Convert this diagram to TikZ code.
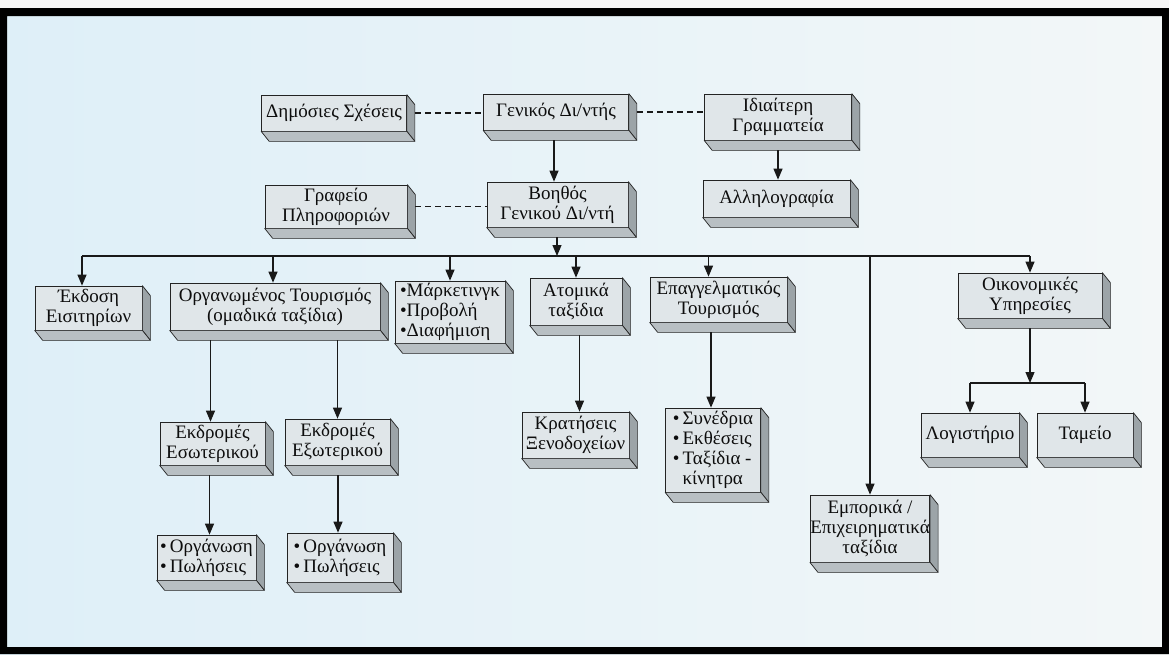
\documentclass[tikz,border=0pt]{standalone}
\usepackage{fontspec}
\setmainfont{Liberation Serif}
\usetikzlibrary{arrows.meta,calc}

\definecolor{bgleft}{RGB}{222,239,248}
\definecolor{bgright}{RGB}{243,247,248}
\definecolor{faceF}{RGB}{224,230,233}
\definecolor{faceS}{RGB}{156,164,168}
\definecolor{faceB}{RGB}{184,191,195}
\definecolor{edgec}{RGB}{35,35,35}

% side and bottom faces of a raised box, offset down-right
\newcommand\solidfaces[1]{%
  \filldraw[sidef] (#1.north east) -- ++(8,10) -- ($(#1.south east)+(8,10)$) -- (#1.south east) -- cycle;
  \filldraw[botf] (#1.south west) -- (#1.south east) -- ++(8,10) -- ($(#1.south west)+(8,10)$) -- cycle;}

\begin{document}
\begin{tikzpicture}[x=1pt,y=-1pt,
  box/.style={draw=edgec, fill=faceF, line width=0.7pt, inner sep=0pt, align=center,
    text=black!95, font=\fontsize{19}{20}\selectfont},
  sidef/.style={draw=edgec, fill=faceS, line width=0.7pt, line join=round},
  botf/.style={draw=edgec, fill=faceB, line width=0.7pt, line join=round},
  conn/.style={draw=black!90, line width=1.1pt},
  arr/.style={conn, -{Triangle[length=11pt,width=9pt]}},
  dashconn/.style={draw=black!90, line width=1.1pt, dash pattern=on 6pt off 4pt}]

\useasboundingbox (0,0) rectangle (1169,654);
\shade[left color=bgleft, right color=bgright] (0,0) rectangle (1169,654);
\fill[white!94!gray] (0,0) rectangle (1169,8);
\fill[black, even odd rule] (0,8) rectangle (1169,654) (7,16) rectangle (1162,647);

% top level
\node[box, minimum width=145pt, minimum height=36pt] (dim) at (334,113) {Δημόσιες Σχέσεις};
\node[box, minimum width=145pt, minimum height=36pt] (gen) at (556,112) {Γενικός Δι/ντής};
\node[box, minimum width=147pt, minimum height=46pt] (idi) at (778,117) {Ιδιαίτερη\\Γραμματεία};

% second level
\node[box, minimum width=142pt, minimum height=43pt] (graf) at (336,206.5) {Γραφείο\\Πληροφοριών};
\node[box, minimum width=141pt, minimum height=45pt] (voi) at (557.5,204.5) {Βοηθός\\Γενικού Δι/ντή};
\node[box, minimum width=147pt, minimum height=37pt] (all) at (776.5,198.5) {Αλληλογραφία};

% departments
\node[box, minimum width=107pt, minimum height=44pt] (ekd) at (88.5,308) {Έκδοση\\Εισιτηρίων};
\node[box, minimum width=210pt, minimum height=47pt] (org) at (275,306.5) {Οργανωμένος Τουρισμός\\(ομαδικά ταξίδια)};
\node[box, minimum width=110pt, minimum height=62pt, align=left] (mar) at (450,312) {•Μάρκετινγκ\\•Προβολή\\•Διαφήμιση};
\node[box, minimum width=92pt, minimum height=47pt] (ato) at (576,301.5) {Ατομικά\\ταξίδια};
\node[box, minimum width=137pt, minimum height=45pt] (epa) at (718.5,299.5) {Επαγγελματικός\\Τουρισμός};
\node[box, minimum width=144pt, minimum height=45pt] (oik) at (1030,295.5) {Οικονομικές\\Υπηρεσίες};

% sub-departments
\node[box, minimum width=105pt, minimum height=43pt] (esw) at (212.5,443.5) {Εκδρομές\\Εσωτερικού};
\node[box, minimum width=105pt, minimum height=46pt] (exw) at (337.5,442) {Εκδρομές\\Εξωτερικού};
\node[box, minimum width=107pt, minimum height=46pt] (kra) at (575.5,435) {Κρατήσεις\\Ξενοδοχείων};
\node[box, minimum width=95pt, minimum height=84pt, align=left] (syn) at (713,450) {•\,Συνέδρια\\•\,Εκθέσεις\\•\,Ταξίδια -\\\hphantom{•\,}κίνητρα};
\node[box, minimum width=98pt, minimum height=44pt] (log) at (970,435) {Λογιστήριο};
\node[box, minimum width=96pt, minimum height=44pt] (tam) at (1085,435) {Ταμείο};

% lowest level
\node[box, minimum width=99pt, minimum height=45pt, align=left] (orgA) at (206.5,557.5) {•\,Οργάνωση\\•\,Πωλήσεις};
\node[box, minimum width=106pt, minimum height=49pt, align=left] (orgB) at (340,557.5) {•\,Οργάνωση\\•\,Πωλήσεις};
\node[box, minimum width=118pt, minimum height=67pt] (emp) at (870,528.5) {Εμπορικά /\\Επιχειρηματικά\\ταξίδια};

\foreach \n in {dim,gen,idi,graf,voi,all,ekd,org,mar,ato,epa,oik,esw,exw,kra,syn,log,tam,orgA,orgB,emp}
  {\solidfaces{\n}}

% staff links
\draw[dashconn] ($(dim.east)+(8,0)$) -- (dim.east -| gen.west);
\draw[dashconn] ($(gen.east)+(8,0)$) -- (gen.east -| idi.west);
\draw[dashconn] ($(graf.east)+(8,0)$) -- (graf.east -| voi.west);

% line links
\draw[arr] ($(gen.south)+(-2,10)$) -- ($(gen.south |- voi.north)+(-2,0)$);
\draw[arr] ($(idi.south)+(0,10)$) -- (idi.south |- all.north);

\coordinate (busL) at (82,256);
\coordinate (busR) at (1030,256);
\coordinate (busM) at (557,256);
\draw[conn] (busL) -- (busR);
\draw[arr] ($(voi.south)+(-0.5,10)$) -- (busM);

\draw[arr] (busL) -- (busL |- ekd.north);
\draw[arr] ($(org.north |- busL)+(-2,0)$) -- ($(org.north)+(-2,0)$);
\draw[arr] (mar.north |- busL) -- (mar.north);
\draw[arr] (ato.north |- busL) -- (ato.north);
\draw[arr] ($(epa.north |- busL)+(-10,0)$) -- ($(epa.north)+(-10,0)$);
\draw[arr] (busR) -- (oik.north);
\draw[arr] (emp.north |- busL) -- (emp.north);

\draw[arr] ($(esw.north |- org.south)+(-2,10)$) -- ($(esw.north)+(-2,0)$);
\draw[arr] ($(exw.north |- org.south)+(0,10)$) -- (exw.north);
\draw[arr] ($(orgA.north |- esw.south)+(3,10)$) -- ($(orgA.north)+(3,0)$);
\draw[arr] ($(orgB.north |- exw.south)+(-2,10)$) -- ($(orgB.north)+(-2,0)$);
\draw[arr] ($(kra.north |- ato.south)+(4,10)$) -- ($(kra.north)+(4,0)$);
\draw[arr] ($(syn.north |- epa.south)+(-2,10)$) -- ($(syn.north)+(-2,0)$);

\coordinate (oj) at (1030,383);
\draw[arr] ($(oik.south)+(0,10)$) -- (oj);
\draw[conn] (log.north |- oj) -- (tam.north |- oj);
\draw[arr] (log.north |- oj) -- (log.north);
\draw[arr] (tam.north |- oj) -- (tam.north);
\end{tikzpicture}
\end{document}
